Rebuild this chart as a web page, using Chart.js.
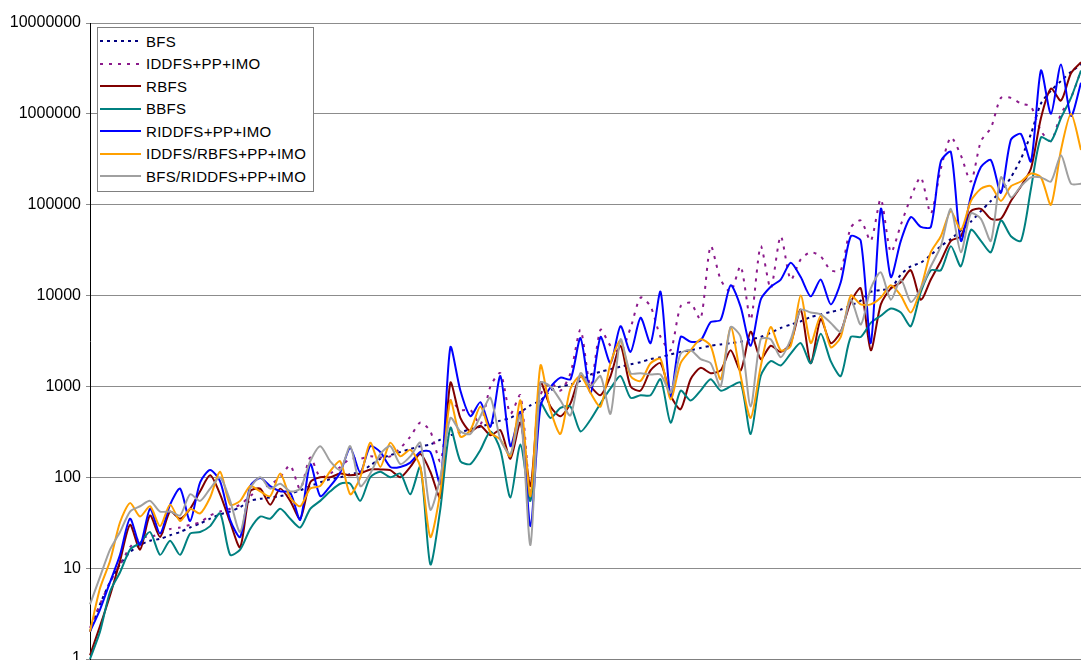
<!DOCTYPE html>
<html>
<head>
<meta charset="utf-8">
<script src="https://cdn.jsdelivr.net/npm/chart.js@4"></script>
<style>
  body { margin: 0; background: #fff; }
  #wrap { position: relative; width: 1081px; height: 660px; }
  #legend {
    position: absolute; left: 97px; top: 27px; width: 215px; height: 161px;
    border: 1px solid #808080; background: #fff;
    font-family: "Liberation Sans", Arial, sans-serif; font-size: 15px; color: #000;
    letter-spacing: 0.3px;
    padding-top: 2px; box-sizing: content-box;
  }
  .row { height: 22.5px; display: flex; align-items: center; }
  .row svg { margin-left: 2px; margin-right: 5px; }
</style>
</head>
<body>
<div id="wrap">
  <canvas id="chart" width="1081" height="660"></canvas>
  <div id="legend"></div>
</div>
<script>
// series values (100 samples per run, left to right)
const bfs = [2, 4, 7, 11, 15, 18, 20, 21, 23, 25,
  28, 31, 35, 39, 42, 47, 55, 58, 60, 62,
  66, 72, 80, 88, 95, 100, 108, 115, 135, 160,
  175, 190, 205, 220, 230, 260, 290, 310, 340, 360,
  390, 420, 450, 520, 620, 700, 900, 1000, 1050, 1150,
  1350, 1450, 1550, 1650, 1750, 1850, 2000, 2100, 2250, 2400,
  2500, 2650, 2800, 2900, 3000, 3100, 3300, 3500, 3900, 4400,
  4800, 5200, 5800, 6200, 6600, 7000, 7800, 8800, 11000, 11500,
  12000, 17000, 21000, 23000, 28000, 35000, 42000, 52000, 65000, 85000,
  110000, 140000, 200000, 320000, 600000, 1300000, 1800000, 2300000, 2900000, 3500000];

const iddfs = [2.2, 4, 7, 11, 17, 22, 22, 24, 27, 28,
  30, 32, 38, 42, 45, 50, 62, 75, 83, 100,
  135, 74, 165, 100, 110, 130, 160, 160, 170, 165,
  170, 210, 280, 400, 320, 150, 700, 550, 550, 380,
  1000, 1400, 500, 800, 70, 800, 1100, 900, 1400, 4200,
  1000, 4200, 2800, 2400, 4400, 9500, 7600, 3500, 2500, 7600,
  8300, 5500, 35000, 15000, 11000, 21000, 5400, 35000, 12000, 45000,
  15000, 25000, 30000, 27000, 19000, 19000, 56000, 67000, 40000, 115000,
  30000, 60000, 120000, 200000, 80000, 250000, 550000, 350000, 180000, 500000,
  700000, 1500000, 1500000, 1300000, 1200000, 650000, 500000, 1000000, 1500000, 3000000];

const rbfs = [1.1, 2.3, 5, 12, 30, 16, 38, 22, 42, 35,
  45, 70, 105, 65, 32, 17, 70, 75, 50, 75,
  55, 35, 88, 100, 100, 110, 105, 110, 122, 122,
  120, 100, 130, 180, 115, 60, 1100, 450, 320, 370,
  290, 330, 160, 400, 80, 1100, 600, 470, 650, 1300,
  1000, 800, 1300, 2800, 1000, 900, 1500, 1800, 800, 560,
  1200, 1600, 1400, 1500, 2500, 1500, 4000, 2000, 2800, 2400,
  3000, 7000, 1800, 5500, 3000, 4000, 8500, 12000, 2500, 8000,
  12000, 14000, 19000, 9000, 15000, 24000, 40000, 45000, 85000, 90000,
  70000, 70000, 110000, 160000, 250000, 900000, 1900000, 1400000, 2800000, 3700000];

const bbfs = [1.0, 2.0, 5.5, 9, 16, 19, 25, 14, 20, 14,
  24, 25, 29, 40, 14, 16, 27, 37, 35, 45,
  35, 28, 45, 55, 70, 85, 85, 55, 100, 115,
  100, 110, 65, 130, 11, 45, 350, 150, 140, 200,
  320, 200, 60, 230, 55, 650, 450, 580, 600, 320,
  430, 650, 950, 1300, 750, 800, 800, 1200, 400, 900,
  700, 900, 1200, 900, 1000, 1100, 300, 1300, 1900, 1700,
  2300, 3000, 1800, 3800, 1900, 1300, 3500, 3500, 5000, 6000,
  7200, 6500, 4600, 11000, 19000, 19000, 35000, 21000, 53000, 40000,
  30000, 67000, 45000, 40000, 150000, 550000, 500000, 900000, 1500000, 3000000];

const riddfs = [2.0, 3.5, 7, 14, 35, 18, 45, 24, 50, 75,
  33, 88, 120, 90, 34, 22, 80, 98, 80, 70,
  68, 34, 140, 62, 80, 113, 210, 113, 220, 190,
  130, 130, 145, 190, 190, 85, 2700, 900, 470, 670,
  360, 1300, 220, 520, 29, 600, 980, 1250, 1200, 3400,
  850, 3500, 1800, 4600, 2400, 5700, 3000, 11000, 780, 3500,
  3100, 3200, 5100, 5400, 13000, 7500, 2800, 9000, 12500, 15000,
  23000, 16000, 9800, 15000, 8000, 14000, 45000, 40000, 3000, 90000,
  16000, 40000, 73000, 57000, 57000, 300000, 380000, 40000, 125000, 260000,
  310000, 135000, 520000, 600000, 300000, 3000000, 1000000, 3500000, 950000, 2200000];

const iddfsRbfs = [2.0, 6, 12, 32, 52, 37, 48, 29, 50, 33,
  45, 40, 60, 115, 50, 55, 80, 70, 62, 110,
  60, 48, 75, 80, 117, 150, 65, 100, 240, 130,
  240, 170, 200, 130, 22, 70, 700, 280, 330, 600,
  310, 260, 170, 700, 62, 1700, 550, 300, 950, 1300,
  850, 600, 1800, 3200, 1300, 1150, 1800, 2000, 720, 1800,
  2500, 3300, 2800, 1200, 4500, 1300, 450, 1650, 4500, 2500,
  2800, 10000, 3000, 6000, 2700, 3500, 10000, 8000, 8000, 9500,
  13000, 10000, 6500, 12000, 30000, 45000, 85000, 53000, 110000, 150000,
  160000, 110000, 160000, 180000, 220000, 200000, 100000, 400000, 1000000, 400000];

const bfsRiddfs = [4, 8, 16, 25, 42, 48, 55, 42, 42, 38,
  65, 55, 75, 100, 55, 25, 75, 100, 75, 85,
  70, 75, 150, 220, 150, 120, 220, 80, 110, 180,
  220, 140, 170, 240, 44, 100, 450, 320, 300, 470,
  750, 260, 180, 480, 18, 1100, 1000, 700, 480, 1400,
  1000, 1300, 500, 3300, 1400, 1400, 1350, 1350, 850, 2300,
  2500, 2000, 1800, 1000, 4500, 3500, 600, 3300, 3300, 2100,
  3300, 7000, 6500, 6200, 5000, 4000, 9000, 4800, 12000, 18000,
  9000, 15000, 8500, 12000, 21000, 35000, 90000, 30000, 80000, 70000,
  40000, 200000, 120000, 160000, 200000, 200000, 180000, 350000, 170000, 170000];

const seriesNames = ['BFS', 'IDDFS+PP+IMO', 'RBFS', 'BBFS', 'RIDDFS+PP+IMO', 'IDDFS/RBFS+PP+IMO', 'BFS/RIDDFS+PP+IMO'];
const seriesColors = ['#000080', '#8b1a8b', '#800000', '#008080', '#0000ff', '#ffa000', '#a0a0a0'];
const seriesDash = [[3, 4], [3, 6], [], [], [], [], []];
const yTicks = [1, 10, 100, 1000, 10000, 100000, 1000000, 10000000];
const samples = Array.from({ length: bfs.length }, (_, i) => i + 1);

const allSeries = [bfs, iddfs, rbfs, bbfs, riddfs, iddfsRbfs, bfsRiddfs];

const datasets = allSeries.map((vals, i) => ({
  label: seriesNames[i],
  data: vals,
  borderColor: seriesColors[i],
  borderDash: seriesDash[i],
  borderWidth: 2,
  pointRadius: 0,
  tension: 0.25,
  fill: false,
  order: allSeries.length - i
}));

const ctx = document.getElementById('chart').getContext('2d');
new Chart(ctx, {
  type: 'line',
  data: { labels: samples, datasets: datasets },
  options: {
    responsive: false,
    animation: false,
    layout: { padding: { top: 23, bottom: 1, left: 0, right: 0 } },
    plugins: { legend: { display: false }, tooltip: { enabled: false } },
    scales: {
      x: {
        offset: false,
        grid: { display: false, drawTicks: false },
        ticks: { display: false },
        border: { display: true, color: '#808080' }
      },
      y: {
        type: 'logarithmic',
        min: 1,
        max: 10000000,
        afterBuildTicks: s => { s.ticks = yTicks.map(v => ({ value: v })); },
        afterFit: s => { s.width = 90; s.paddingTop = 0; s.paddingBottom = 0; },
        ticks: {
          autoSkip: false,
          padding: 5,
          color: '#000',
          font: { family: '"Liberation Sans", Arial, sans-serif', size: 16 },
          callback: v => String(v)
        },
        grid: { color: '#8c8c8c', tickLength: 4 },
        border: { color: '#000' }
      }
    }
  }
});

// legend box, top left inside the plot
const legend = document.getElementById('legend');
seriesNames.forEach((name, i) => {
  const row = document.createElement('div');
  row.className = 'row';
  const dash = seriesDash[i].length ? `stroke-dasharray="${seriesDash[i].join(',')}"` : '';
  row.innerHTML = `<svg width="41" height="4"><line x1="0" y1="2" x2="41" y2="2" stroke="${seriesColors[i]}" stroke-width="2" ${dash}/></svg><span>${name}</span>`;
  legend.appendChild(row);
});
</script>
</body>
</html>
